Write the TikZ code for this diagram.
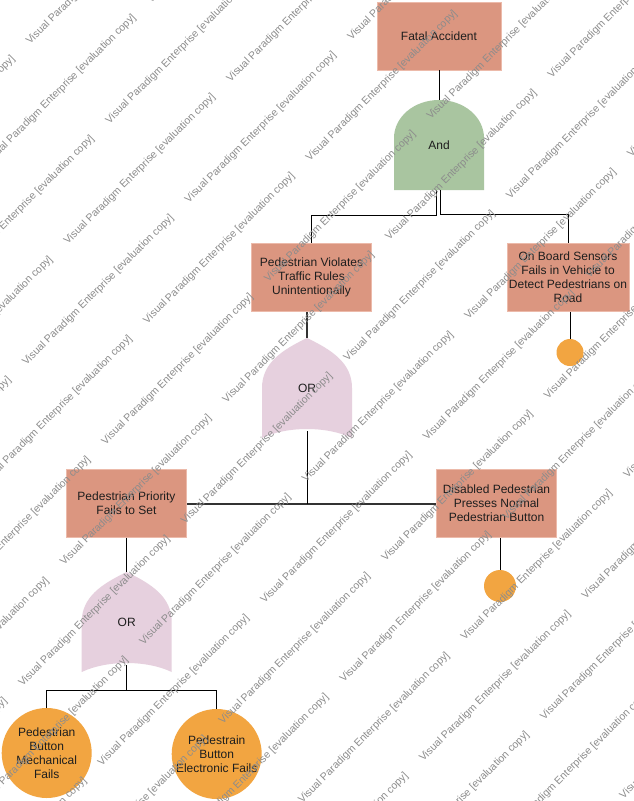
\documentclass[tikz,border=0pt]{standalone}
\usepackage{fontspec}
\setmainfont{Liberation Sans}
\usetikzlibrary{calc}

\definecolor{boxfill}{RGB}{219,150,128}
\definecolor{boxline}{RGB}{236,186,170}
\definecolor{andfill}{RGB}{169,197,160}
\definecolor{orfill}{RGB}{230,208,222}
\definecolor{evfill}{RGB}{242,165,65}
\definecolor{wmgray}{RGB}{140,140,140}
\definecolor{txt}{RGB}{30,30,30}

\tikzset{
  event/.style={rectangle, fill=boxfill, draw=boxline, line width=0.8pt,
    minimum width=120pt, minimum height=68pt, inner sep=2pt, align=center,
    font=\fontsize{12}{14}\selectfont, text=txt},
  basic/.style={circle, fill=evfill, inner sep=0pt, align=center,
    font=\fontsize{12}{14}\selectfont, text=txt},
  gatetext/.style={font=\fontsize{12}{14}\selectfont, text=txt, inner sep=0pt},
  wire/.style={draw=black, line width=1pt},
  busline/.style={draw=black!80, line width=2pt},
  wm/.style={anchor=base west, rotate=45, text=wmgray, inner sep=0pt,
    font=\fontsize{10.5}{12}\selectfont},
  orgate/.pic={
    \fill[orfill] (-45,50) -- (-45,0) .. controls (-45,-25) and (-25,-38) .. (0,-50)
      .. controls (25,-38) and (45,-25) .. (45,0) -- (45,50)
      .. controls (20,38) and (-20,38) .. cycle;
    \node[gatetext] (-label) at (0,0) {OR};
    \coordinate (-top) at (0,-50);
    \coordinate (-bot) at (0,43);
  },
  andgate/.pic={
    \fill[andfill] (-45,45) -- (-45,-7) .. controls (-45,-28) and (-25,-45) .. (0,-45)
      .. controls (25,-45) and (45,-28) .. (45,-7) -- (45,45) -- cycle;
    \node[gatetext] (-label) at (0,0) {And};
    \coordinate (-top) at (0,-45);
    \coordinate (-botl) at (-3,45);
    \coordinate (-botr) at (1,45);
  }
}

\begin{document}
\begin{tikzpicture}[x=1pt,y=-1pt]
\useasboundingbox (0,0) rectangle (633,801);
\fill[white] (0,0) rectangle (633,801);

% events
\node[event, minimum width=124pt] (fatal) at (439,36) {Fatal Accident};
\node[event] (viol) at (311.5,277.5) {Pedestrian Violates\\Traffic Rules\\Unintentionally};
\node[event] (sens) at (568,277.5) {On Board Sensors\\Fails in Vehicle to\\Detect Pedestrians on\\Road};
\node[event] (prio) at (126.5,503.5) {Pedestrian Priority\\Fails to Set};
\node[event] (dis) at (496.5,503.5) {Disabled Pedestrian\\Presses Normal\\Pedestrian Button};

% gates
\pic (and) at (439,145) {andgate};
\pic (or1) at (307,388) {orgate};
\pic (or2) at (126.7,622) {orgate};

% basic events
\node[basic, minimum size=27pt] (c1) at (570,352.5) {};
\node[basic, minimum size=32pt] (c2) at (500,586) {};
\node[basic, minimum size=90pt] (b1) at (46.7,753) {Pedestrian\\Button\\Mechanical\\Fails};
\node[basic, minimum size=90pt] (b2) at (216.7,754) {Pedestrain\\Button\\Electronic Fails};

% connectors
\draw[wire] (fatal.south) -- (and-top);
\draw[wire] (and-botl) -- ++(0,25) -| (viol.north);
\draw[wire] (and-botr) -- ++(0,24) -| (sens.north);
\draw[busline] (viol.south -| or1-top) -- (or1-top);
\draw[wire] (c1.north |- sens.south) -- (c1.north);
\draw[busline] (prio.east) -- (dis.west);
\draw[wire] (or1-bot) -- (or1-bot |- prio.east);
\draw[wire] (c2.north |- dis.south) -- (c2.north);
\draw[wire] (prio.south -| or2-top) -- (or2-top);
\draw[wire] (or2-bot) -- ++(0,25) -| (b1.north);
\draw[wire] (or2-bot) ++(0,25) -| (b2.north);

% evaluation watermark tiled across the sheet; only copies that cross the sheet are set
\begin{scope}
\clip (0,0) rectangle (633,801);
\foreach \n in {-1,...,18}{
  \foreach \k in {-13,...,3}{
    \pgfmathsetmacro\wx{30+121*\n+162.6*\k}
    \pgfmathsetmacro\wy{45-41.7*\n-162.6*\k}
    \pgfmathsetmacro\wlo{max(0,-\wx,\wy-801)}
    \pgfmathsetmacro\whi{min(150,\wy,633-\wx)}
    \ifdim\wlo pt<\whi pt
      \node[wm] (wm\n x\k) at (\wx,\wy)
        {Visual Paradigm Enterprise [evaluation copy]};
    \fi
  }
}
\end{scope}
\end{tikzpicture}
\end{document}
